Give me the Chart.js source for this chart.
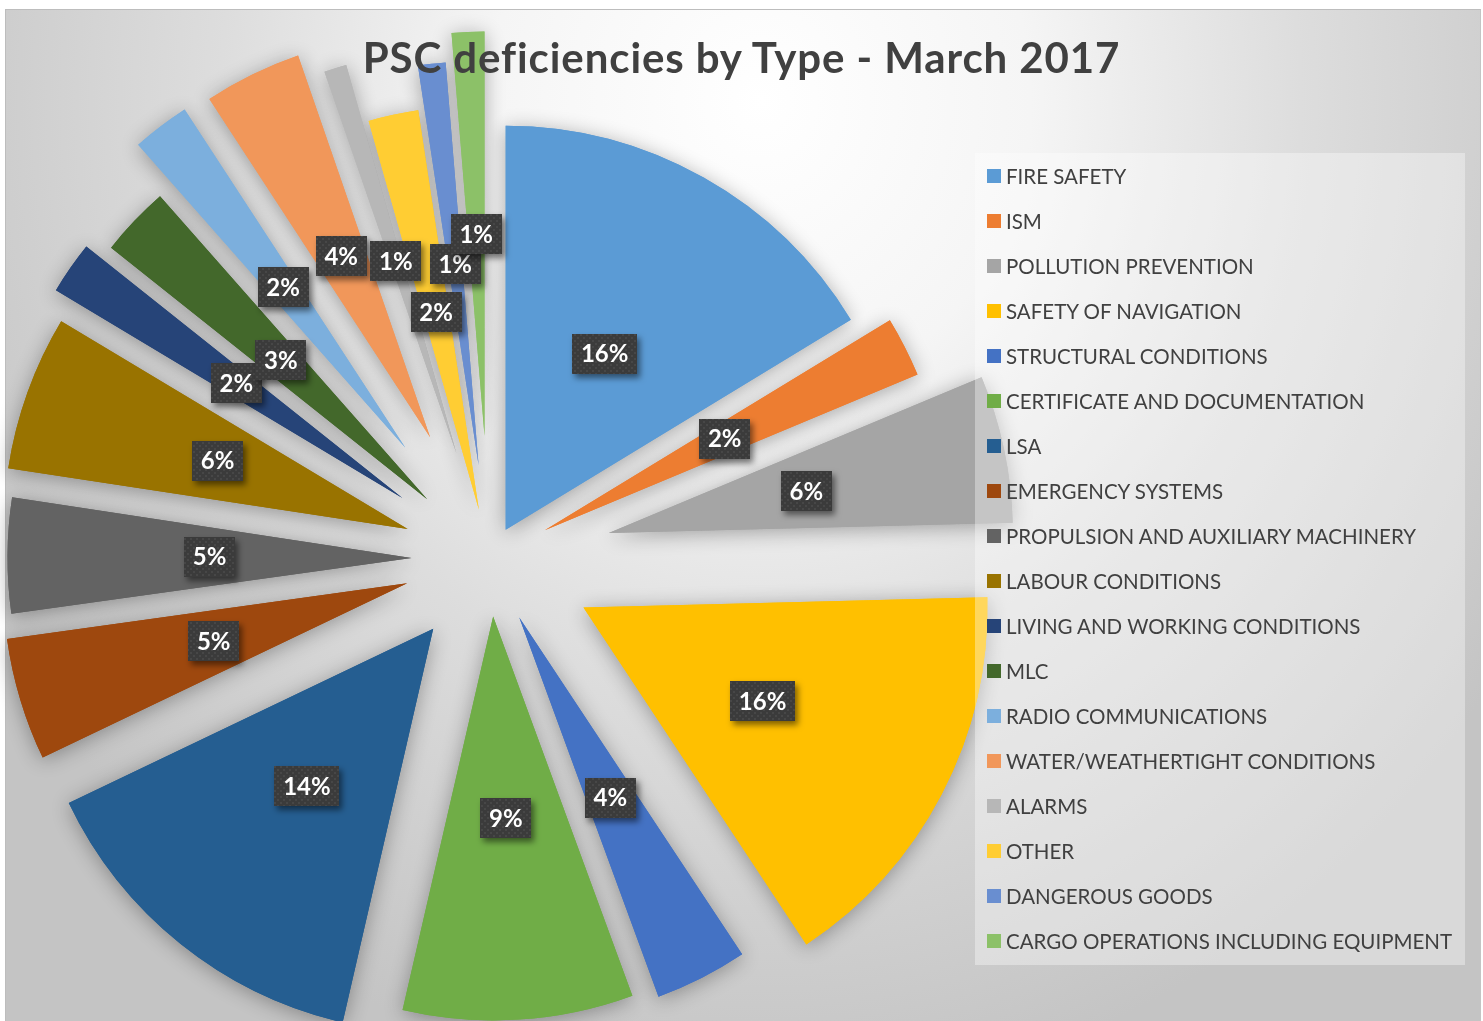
<!DOCTYPE html>
<html>
<head>
<meta charset="utf-8">
<script src="https://cdn.jsdelivr.net/npm/chart.js@4.4.1/dist/chart.umd.min.js"></script>
<style>
  html, body { margin: 0; padding: 0; background: #ffffff; width: 1483px; height: 1021px; overflow: hidden; }
  #frame {
    position: absolute; left: 5px; top: 9px; width: 1476px; height: 1012px; box-sizing: border-box;
    border-left: 1px solid #bdbdbd; border-top: 1px solid #bdbdbd; border-right: 1px solid #c4c4c4;
    background: radial-gradient(ellipse 900px 1000px at 755px 91px, #ffffff 0%, #f5f5f5 30%, #dddddd 60%, #c4c4c4 100%);
  }
  #chart { position: absolute; left: 0; top: 0; }
  #title {
    position: absolute; left: 0; top: 33px; width: 1483px; text-align: center;
    font-family: Lato, "Open Sans", sans-serif; font-weight: bold; font-size: 42px; letter-spacing: 0.9px;
    line-height: 48px; color: #404040;
  }
  #legend {
    position: absolute; left: 975px; top: 153px; width: 490px; height: 812px;
    background: rgba(255,255,255,0.36);
  }
  .item { height: 45px; display: flex; align-items: center; padding-left: 12px; box-sizing: border-box;
    font-family: Lato, "Open Sans", sans-serif; font-size: 20.5px; color: #404040; white-space: nowrap; }
  .sw { width: 14px; height: 14px; margin-right: 5px; flex: none; }
</style>
</head>
<body>
<div id="frame"></div>
<canvas id="chart" width="1483" height="1021"></canvas>
<div id="title">PSC deficiencies by Type - March 2017</div>
<div id="legend"></div>
<script>
// ---- data ----
const categories = [
  'FIRE SAFETY', 'ISM', 'POLLUTION PREVENTION', 'SAFETY OF NAVIGATION', 'STRUCTURAL CONDITIONS',
  'CERTIFICATE AND DOCUMENTATION', 'LSA', 'EMERGENCY SYSTEMS', 'PROPULSION AND AUXILIARY MACHINERY',
  'LABOUR CONDITIONS', 'LIVING AND WORKING CONDITIONS', 'MLC', 'RADIO COMMUNICATIONS',
  'WATER/WEATHERTIGHT CONDITIONS', 'ALARMS', 'OTHER', 'DANGEROUS GOODS', 'CARGO OPERATIONS INCLUDING EQUIPMENT'
];
const deficiencyShare = [16.3, 2.4, 5.9, 16.1, 3.7, 9.2, 14.3, 4.9, 4.6, 6.2, 2.1, 2.8, 2.3, 3.9, 0.9, 2.0, 1.1, 1.3];

// ---- styles ----
const sliceColors = [
  '#5B9BD5', '#ED7D31', '#A5A5A5', '#FFC000', '#4472C4', '#70AD47',
  '#255E91', '#9E480E', '#636363', '#997300', '#264478', '#43682B',
  '#7CAFDD', '#F1975A', '#B7B7B7', '#FFCD33', '#698ED0', '#8CC168'
];
const explodeOffsets = [33, 62, 122, 106, 66, 58, 90, 86, 78, 87, 106, 86, 139, 135, 110, 50, 94, 123];
const pieRadius = 404;

// ---- legend (HTML) ----
const legendEl = document.getElementById('legend');
categories.forEach((c, i) => {
  const row = document.createElement('div');
  row.className = 'item';
  const sw = document.createElement('span');
  sw.className = 'sw';
  sw.style.background = sliceColors[i];
  const tx = document.createElement('span');
  tx.textContent = c;
  row.appendChild(sw); row.appendChild(tx);
  legendEl.appendChild(row);
});

// ---- exploded slices: translate each arc along its mid angle (Excel-style explosion) ----
Chart.defaults.elements.arc.explode = 0;
const origArcDraw = Chart.ArcElement.prototype.draw;
Chart.ArcElement.prototype.draw = function (ctx) {
  const t = this.options.explode || 0;
  const mid = (this.startAngle + this.endAngle) / 2;
  ctx.save();
  ctx.translate(Math.cos(mid) * t, Math.sin(mid) * t);
  origArcDraw.call(this, ctx);
  ctx.restore();
};

const shadowPlugin = {
  id: 'sliceShadow',
  beforeDatasetDraw(chart) {
    const ctx = chart.ctx;
    ctx.save();
    ctx.shadowColor = 'rgba(0,0,0,0.32)';
    ctx.shadowBlur = 20;
    ctx.shadowOffsetX = 0;
    ctx.shadowOffsetY = 3;
  },
  afterDatasetDraw(chart, args) {
    chart.ctx.restore();
    args.meta.controller.draw();
  }
};

function makePattern(ctx) {
  const c = document.createElement('canvas');
  c.width = 6; c.height = 6;
  const g = c.getContext('2d');
  g.fillStyle = '#3b3b3b'; g.fillRect(0, 0, 6, 6);
  g.fillStyle = '#474747'; g.fillRect(1, 1, 2, 2); g.fillRect(4, 4, 2, 2);
  return ctx.createPattern(c, 'repeat');
}

const labelPlugin = {
  id: 'pctLabels',
  afterDatasetsDraw(chart) {
    const ctx = chart.ctx;
    const meta = chart.getDatasetMeta(0);
    const data = chart.data.datasets[0].data;
    const total = data.reduce((a, b) => a + b, 0);
    const pat = makePattern(ctx);
    meta.data.forEach((arc, i) => {
      const mid = (arc.startAngle + arc.endAngle) / 2;
      const d = (arc.options.explode || 0) + arc.outerRadius / 2;
      const x = arc.x + Math.cos(mid) * d;
      const y = arc.y + Math.sin(mid) * d;
      const txt = Math.round(data[i] / total * 100) + '%';
      ctx.save();
      ctx.font = 'bold 24px Lato, "Open Sans", sans-serif';
      const w = Math.round(ctx.measureText(txt).width + 17);
      const h = 40;
      ctx.shadowColor = 'rgba(0,0,0,0.5)';
      ctx.shadowBlur = 6;
      ctx.shadowOffsetX = 3;
      ctx.shadowOffsetY = 4;
      ctx.fillStyle = pat;
      ctx.fillRect(Math.round(x - w / 2), Math.round(y - h / 2), w, h);
      ctx.shadowColor = 'rgba(0,0,0,0)';
      ctx.fillStyle = '#ffffff';
      ctx.textAlign = 'center';
      ctx.textBaseline = 'middle';
      ctx.fillText(txt, x, y + 1);
      ctx.restore();
    });
  }
};

function build() {
  new Chart(document.getElementById('chart'), {
    type: 'pie',
    data: {
      labels: categories,
      datasets: [{
        data: deficiencyShare,
        backgroundColor: sliceColors,
        borderWidth: 0,
        explode: explodeOffsets,
        radius: pieRadius,
        clip: false
      }]
    },
    options: {
      responsive: false,
      animation: false,
      events: [],
      radius: pieRadius,
      layout: { padding: { left: 0, right: 504, top: 96, bottom: 0 } },
      plugins: {
        legend: { display: false },
        title: { display: false },
        tooltip: { enabled: false }
      }
    },
    plugins: [shadowPlugin, labelPlugin]
  });
}

if (document.fonts && document.fonts.load) {
  Promise.all([document.fonts.load('bold 24px Lato'), document.fonts.load('21px Lato')]).then(build, build);
} else {
  build();
}
</script>
</body>
</html>
